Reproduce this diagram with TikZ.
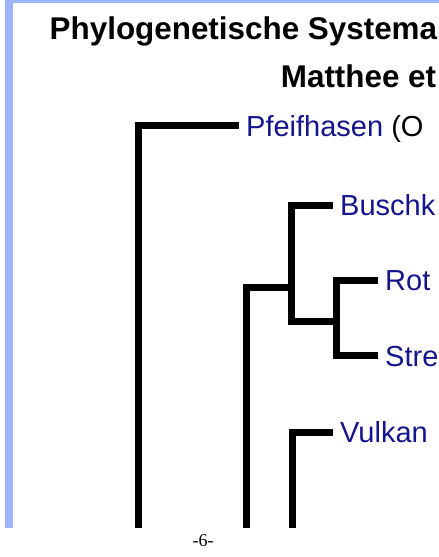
\documentclass[tikz,border=0pt]{standalone}
\usepackage{fontspec}
\setmainfont{Liberation Sans}
\newfontfamily\footfont{Liberation Serif}
\usepackage{tikz}
\usetikzlibrary{calc}
\definecolor{frameblue}{RGB}{157,180,255}
\definecolor{taxonblue}{RGB}{20,20,140}
\tikzset{
  branch/.style={line width=7pt, line join=miter, line cap=butt},
  taxon/.style={anchor=west, inner xsep=7pt, inner ysep=0pt, text height=21pt, text depth=0pt,
    font=\fontsize{29}{34}\selectfont},
  headline/.style={anchor=base west, inner sep=0pt, font=\fontsize{31.4}{36}\selectfont\bfseries}
}

\begin{document}
\begin{tikzpicture}[x=1pt,y=-1pt]
\useasboundingbox (0,0) rectangle (439,557);
% slide frame
\fill[frameblue] (5,0) rectangle (13,528);
\fill[frameblue] (5,0) rectangle (439,3);

% title
\node[headline] (title1) at (49.5,39.5) {Phylogenetische Systema};
\node[headline] (title2) at (280.7,87) {Matthee et};

% taxa
\node[taxon] (pfeif) at (239,125.5) {\textcolor{taxonblue}{Pfeifhasen} (O};
\node[taxon, text=taxonblue] (busch) at (333,205) {Buschk};
\node[taxon, text=taxonblue] (rot) at (378,280) {Rot};
\node[taxon, text=taxonblue] (stre) at (378,355.5) {Stre};
\node[taxon, text=taxonblue] (vulkan) at (333,432) {Vulkan};

% inner nodes
\coordinate (rootend) at (138.5,528);
\coordinate (nAend) at (246,528);
\coordinate (nBmid) at (291.5,287.7);
\coordinate (nB) at (291.5,321.5);
\coordinate (nC) at (336.5,321.5);
\coordinate (nDend) at (292,528);

% tree
\draw[branch] (rootend) |- (pfeif.west);
\draw[branch] (nAend) |- (nBmid);
\draw[branch] (busch.west) -| (nB) -- (nC);
\draw[branch] (rot.west) -| (nC) |- (stre.west);
\draw[branch] (nDend) |- (vulkan.west);

% page number
\node[font=\footfont\fontsize{18}{20}\selectfont, anchor=base, inner sep=0pt] (pagenum) at (203,546) {-6-};
\end{tikzpicture}
\end{document}
